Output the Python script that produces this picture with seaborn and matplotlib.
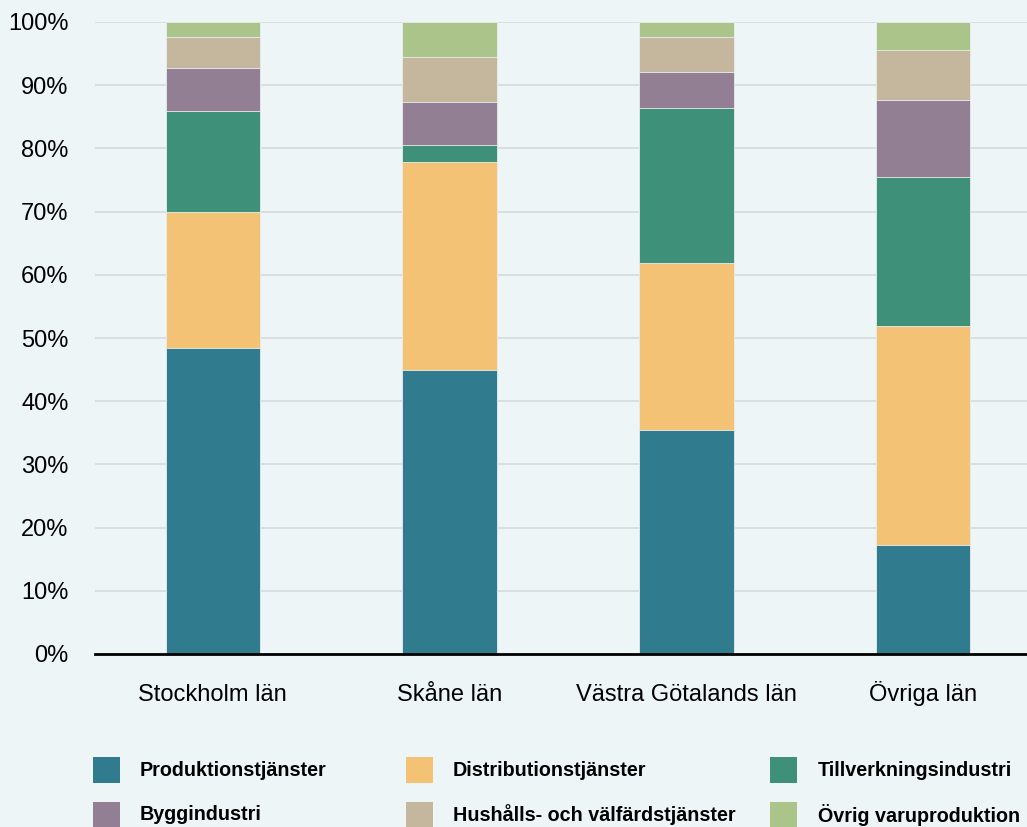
import numpy as np
import pandas as pd
import matplotlib
matplotlib.use("Agg")
import matplotlib.pyplot as plt
import matplotlib.patches as mpatches
import seaborn as sns

# data (percent shares)
regions = ["Stockholm län", "Skåne län", "Västra Götalands län", "Övriga län"]
sectors = ["Produktionstjänster", "Distributionstjänster", "Tillverkningsindustri",
           "Byggindustri", "Hushålls- och välfärdstjänster", "Övrig varuproduktion"]
produktion = [48.4, 44.9, 35.4, 17.2]
distribution = [21.5, 32.9, 26.5, 34.7]
tillverkning = [16.0, 2.7, 24.5, 23.6]
bygg = [6.8, 6.8, 5.7, 12.2]
hushall = [4.9, 7.2, 5.5, 7.9]
ovrig = [2.4, 5.5, 2.4, 4.4]

colors = ["#317B8F", "#F4C275", "#3E9178", "#937F94", "#C4B79E", "#ABC48A"]
bg = "#EEF5F7"

sns.set_theme(style="white")
plt.rcParams['font.family'] = ['Liberation Sans', 'DejaVu Sans']

df = pd.DataFrame({"region": regions})
series = [produktion, distribution, tillverkning, bygg, hushall, ovrig]
cum = np.cumsum(np.array(series), axis=0)

fig = plt.figure(figsize=(10.27, 8.27), dpi=100, facecolor=bg)
ax = fig.add_axes([95 / 1027, 1 - 654 / 827, 1 - 95 / 1027, (654 - 22) / 827])
ax.set_facecolor(bg)

# stacked bars: draw cumulative totals from the top down
for i in range(len(sectors) - 1, -1, -1):
    df["val"] = cum[i]
    sns.barplot(data=df, x="region", y="val", color=colors[i], width=0.4,
                saturation=1, edgecolor="#E8EEF0", linewidth=0.6, ax=ax, zorder=2)

ax.set_ylim(0, 100)
ax.set_xlim(-0.498, 3.44)
ax.set_yticks(np.arange(0, 101, 10))
ax.set_yticklabels([f"{v}%" for v in range(0, 101, 10)])
ax.yaxis.grid(True, color="#D6DADC", linewidth=1.2, zorder=0)
ax.set_axisbelow(True)
ax.set_xlabel("")
ax.set_ylabel("")
for s in ["left", "right", "top"]:
    ax.spines[s].set_visible(False)
ax.spines["bottom"].set_color("black")
ax.spines["bottom"].set_linewidth(2)
ax.spines["bottom"].set_zorder(5)
ax.tick_params(axis="y", length=0, pad=19, labelsize=17, labelcolor="black")
ax.tick_params(axis="x", length=0, pad=34, labelsize=17, labelcolor="black")
for lab in ax.get_xticklabels():
    lab.set_va("baseline")

# legend, laid out like the original (3 columns x 2 rows)
col_sq = [93, 406, 770]
col_tx = [140, 453, 818]
row_y = [770, 815]
order = [[0, 1, 2], [3, 4, 5]]
W, H = 1027, 827
for r, row in enumerate(order):
    for c, idx in enumerate(row):
        yc = row_y[r]
        fig.patches.append(mpatches.Rectangle((col_sq[c] / W, 1 - (yc + 13) / H), 27 / W, 26 / H,
                                              transform=fig.transFigure, facecolor=colors[idx],
                                              edgecolor="none"))
        fig.text(col_tx[c] / W, 1 - yc / H, sectors[idx], fontsize=14.2, fontweight="bold",
                 va="center", ha="left", color="black")

fig.savefig("out.png", dpi=100, facecolor=bg)
